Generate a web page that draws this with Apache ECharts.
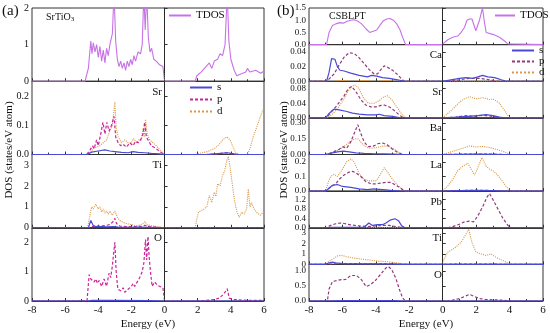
<!DOCTYPE html>
<html><head><meta charset="utf-8">
<script src="https://cdn.jsdelivr.net/npm/echarts@6/dist/echarts.min.js"></script>
<style>html,body{margin:0;padding:0;background:#fff}#c{width:550px;height:333px}</style>
</head><body><div id="c"></div>
<script>
// ---------- Panel (a) SrTiO3 ----------
const aTDOS = [[-8,0],[-4.8,0],[-4.6,0.35],[-4.45,1.1],[-4.38,0.75],[-4.3,1.05],[-4.2,0.8],[-4.1,1.0],[-4.0,0.65],[-3.9,0.95],[-3.8,0.55],[-3.7,0.85],[-3.6,0.5],[-3.5,0.9],[-3.4,0.7],[-3.3,1.0],[-3.15,1.3],[-3.05,2.4],[-2.95,1.1],[-2.85,0.6],[-2.75,0.4],[-2.65,0.55],[-2.55,0.35],[-2.45,0.5],[-2.35,0.3],[-2.25,0.55],[-2.15,0.4],[-2.05,0.6],[-1.95,0.45],[-1.85,0.7],[-1.75,0.55],[-1.6,0.8],[-1.45,0.75],[-1.35,1.0],[-1.25,2.4],[-1.17,1.4],[-1.08,2.4],[-0.98,1.2],[-0.88,0.8],[-0.78,0.9],[-0.65,0.6],[-0.5,0.55],[-0.3,0.45],[-0.1,0.4],[0,0],[1.85,0],[1.95,0.15],[2.2,0.25],[2.5,0.4],[2.7,0.5],[2.85,0.35],[3.0,0.55],[3.2,0.6],[3.35,0.75],[3.5,0.7],[3.65,1.0],[3.78,2.4],[3.88,1.1],[4.0,0.6],[4.2,0.3],[4.35,0.15],[4.6,0.2],[4.9,0.25],[5.0,0.35],[5.15,0.25],[5.5,0.3],[5.8,0.22],[6,0.28]];
const aSr_s = [[-8,0],[-4.7,0],[-4.4,0.008],[-4.0,0.012],[-3.6,0.016],[-3.3,0.012],[-3.0,0.01],[-2.6,0.007],[-2.2,0.006],[-1.9,0.01],[-1.6,0.007],[-1.2,0.006],[-0.8,0.004],[-0.3,0.002],[0,0],[2.5,0],[3.2,0.003],[3.8,0.006],[4.2,0.002],[4.5,0],[6,0]];
const aSr_p = [[-8,0],[-4.7,0],[-4.5,0.015],[-4.35,0.03],[-4.25,0.02],[-4.1,0.05],[-4.0,0.03],[-3.85,0.07],[-3.72,0.11],[-3.6,0.07],[-3.48,0.11],[-3.35,0.08],[-3.2,0.1],[-3.05,0.13],[-2.95,0.06],[-2.8,0.04],[-2.65,0.03],[-2.5,0.035],[-2.3,0.025],[-2.1,0.04],[-1.9,0.03],[-1.75,0.045],[-1.6,0.04],[-1.45,0.05],[-1.3,0.07],[-1.2,0.11],[-1.1,0.06],[-1.0,0.05],[-0.8,0.03],[-0.5,0.02],[-0.3,0.01],[0,0],[2.5,0],[3.2,0.002],[3.7,0.006],[4.0,0.003],[4.3,0],[6,0]];
const aSr_d = [[-8,0],[-4.7,0],[-4.5,0.005],[-4.3,0.02],[-4.1,0.025],[-3.9,0.03],[-3.7,0.04],[-3.5,0.05],[-3.3,0.08],[-3.15,0.1],[-3.0,0.18],[-2.92,0.09],[-2.8,0.06],[-2.6,0.04],[-2.4,0.05],[-2.2,0.04],[-2.0,0.04],[-1.87,0.055],[-1.7,0.04],[-1.55,0.05],[-1.4,0.05],[-1.3,0.09],[-1.22,0.06],[-1.15,0.12],[-1.05,0.07],[-0.9,0.05],[-0.7,0.04],[-0.5,0.03],[-0.2,0.01],[0,0],[1.8,0],[2.2,0.005],[2.6,0.01],[3.0,0.02],[3.3,0.035],[3.5,0.05],[3.75,0.06],[3.95,0.05],[4.1,0.03],[4.3,0.005],[4.5,0],[5.0,0],[5.15,0.02],[5.35,0.06],[5.6,0.1],[5.85,0.14],[6,0.16]];
const aTi_s = [[-8,0],[-4.6,0],[-4.45,0.35],[-4.3,0.1],[-4.1,0.05],[-3.8,0.06],[-3.5,0.04],[-3.1,0.06],[-2.8,0.03],[-2.3,0.02],[-1.5,0.03],[-1,0.02],[0,0],[6,0]];
const aTi_p = [[-8,0],[-4.6,0],[-4.4,0.05],[-4.0,0.08],[-3.6,0.1],[-3.3,0.15],[-3.1,0.3],[-3.0,0.45],[-2.9,0.2],[-2.7,0.08],[-2.3,0.05],[-1.8,0.05],[-1.4,0.07],[-1.2,0.12],[-1.0,0.06],[-0.5,0.03],[0,0],[6,0]];
const aTi_d = [[-8,0],[-4.65,0],[-4.5,0.6],[-4.4,1.0],[-4.3,0.9],[-4.15,1.12],[-4.0,0.9],[-3.9,1.0],[-3.8,0.75],[-3.7,0.9],[-3.6,0.7],[-3.5,0.8],[-3.4,0.65],[-3.3,0.8],[-3.15,0.6],[-3.0,0.8],[-2.85,0.5],[-2.7,0.35],[-2.5,0.25],[-2.3,0.2],[-2.0,0.15],[-1.8,0.1],[-1.5,0.12],[-1.3,0.2],[-1.2,0.3],[-1.05,0.15],[-0.8,0.1],[-0.4,0.05],[0,0],[1.85,0],[1.95,0.45],[2.05,0.75],[2.3,0.85],[2.55,1.0],[2.7,1.55],[2.85,1.2],[3.0,1.7],[3.1,1.5],[3.2,2.1],[3.35,2.0],[3.5,2.5],[3.62,2.7],[3.75,3.2],[3.85,3.4],[3.95,2.9],[4.05,2.3],[4.2,1.4],[4.35,0.8],[4.5,0.5],[4.65,0.75],[4.8,0.65],[4.95,0.9],[5.05,1.85],[5.15,1.0],[5.25,1.2],[5.4,0.9],[5.6,0.7],[5.8,0.6],[6,0.8]];
const aO_s = [[-8,0],[-4.6,0],[-4.4,0.02],[-3,0.02],[-1,0.01],[0,0],[6,0]];
const aO_p = [[-8,0],[-4.68,0],[-4.55,0.9],[-4.45,0.75],[-4.35,0.8],[-4.25,0.65],[-4.15,0.75],[-4.05,0.6],[-3.95,0.7],[-3.8,0.5],[-3.65,0.75],[-3.5,0.5],[-3.35,0.95],[-3.25,0.8],[-3.15,1.2],[-3.08,1.6],[-3.0,2.0],[-2.92,1.0],[-2.82,0.4],[-2.65,0.35],[-2.5,0.45],[-2.4,0.3],[-2.2,0.4],[-2.0,0.5],[-1.9,0.6],[-1.8,0.5],[-1.7,0.6],[-1.5,0.8],[-1.35,1.0],[-1.25,1.3],[-1.15,2.1],[-1.08,1.4],[-1.0,2.2],[-0.93,1.5],[-0.85,1.0],[-0.75,0.5],[-0.6,0.65],[-0.45,0.55],[-0.3,0.5],[-0.1,0.45],[0,0],[2.0,0],[2.5,0.02],[3.0,0.05],[3.3,0.1],[3.5,0.2],[3.65,0.3],[3.78,0.42],[3.9,0.1],[4.2,0.05],[5,0.02],[6,0.02]];

// ---------- Panel (b) CSBLPT ----------
const bTDOS = [[-8,0],[-6.95,0],[-6.8,0.5],[-6.6,0.78],[-6.4,0.85],[-6.15,0.9],[-5.95,0.88],[-5.75,0.95],[-5.5,1.0],[-5.3,1.02],[-5.1,0.97],[-4.85,0.85],[-4.6,0.65],[-4.37,0.5],[-4.15,0.55],[-3.95,0.6],[-3.75,0.8],[-3.55,0.98],[-3.35,1.05],[-3.15,1.07],[-2.95,1.0],[-2.75,0.85],[-2.55,0.6],[-2.4,0.3],[-2.22,0],[-0.05,0],[0,0.08],[0.3,0.2],[0.6,0.3],[0.9,0.35],[1.1,0.5],[1.3,0.7],[1.45,1.0],[1.6,1.05],[1.75,1.05],[1.98,0.57],[2.2,1.0],[2.38,1.5],[2.5,0.9],[2.6,0.5],[3.0,0.42],[3.4,0.3],[3.7,0.15],[3.9,0.03],[4.0,0],[6,0]];
const bCa_s = [[-8,0],[-6.95,0],[-6.8,0.012],[-6.65,0.031],[-6.45,0.03],[-6.3,0.02],[-6.15,0.015],[-5.9,0.014],[-5.5,0.011],[-5.0,0.008],[-4.5,0.006],[-4.25,0.008],[-4.15,0.01],[-3.95,0.007],[-3.6,0.005],[-3.2,0.004],[-2.7,0.002],[-2.3,0],[0,0],[0.5,0.002],[1.0,0.004],[1.4,0.005],[1.8,0.004],[2.1,0.006],[2.38,0.008],[2.7,0.006],[3.1,0.005],[3.5,0.002],[3.8,0],[6,0]];
const bCa_p = [[-8,0],[-7.0,0],[-6.8,0.003],[-6.5,0.01],[-6.2,0.022],[-5.9,0.033],[-5.6,0.039],[-5.3,0.038],[-5.0,0.032],[-4.7,0.024],[-4.4,0.016],[-4.1,0.01],[-3.9,0.01],[-3.7,0.016],[-3.5,0.021],[-3.3,0.019],[-3.0,0.015],[-2.7,0.009],[-2.45,0.003],[-2.3,0],[0.5,0],[1.0,0.002],[1.6,0.004],[2.2,0.004],[2.8,0.002],[3.3,0],[6,0]];
const bCa_d = [[-8,0],[-6,0.001],[-3,0.001],[-2.3,0],[6,0]];
const bSr_s = [[-8,0],[-7.0,0],[-6.8,0.012],[-6.5,0.024],[-6.2,0.022],[-5.8,0.018],[-5.4,0.013],[-5.0,0.01],[-4.5,0.008],[-4.0,0.008],[-3.8,0.01],[-3.5,0.006],[-3.0,0.004],[-2.6,0.001],[-2.3,0],[0,0],[0.8,0.002],[1.5,0.004],[2.1,0.006],[2.6,0.009],[3.0,0.006],[3.4,0.002],[3.7,0],[6,0]];
const bSr_p = [[-8,0],[-6.95,0],[-6.7,0.015],[-6.4,0.03],[-6.15,0.045],[-5.9,0.06],[-5.65,0.08],[-5.45,0.086],[-5.2,0.072],[-4.9,0.05],[-4.6,0.035],[-4.3,0.03],[-4.0,0.03],[-3.7,0.034],[-3.5,0.035],[-3.2,0.03],[-2.9,0.02],[-2.6,0.008],[-2.35,0],[0,0],[0.8,0.002],[1.4,0.006],[1.9,0.004],[2.4,0.007],[3.0,0.004],[3.5,0],[6,0]];
const bSr_d = [[-8,0],[-6.95,0],[-6.6,0.01],[-6.3,0.025],[-6.0,0.045],[-5.7,0.07],[-5.45,0.085],[-5.25,0.09],[-5.0,0.08],[-4.75,0.055],[-4.45,0.04],[-4.1,0.04],[-3.8,0.047],[-3.5,0.058],[-3.3,0.06],[-3.05,0.05],[-2.75,0.03],[-2.45,0.01],[-2.2,0],[0,0],[0.1,0.005],[0.5,0.02],[0.9,0.038],[1.2,0.05],[1.6,0.058],[2.0,0.052],[2.4,0.055],[2.8,0.05],[3.0,0.052],[3.4,0.04],[3.7,0.02],[4.0,0],[6,0]];
const bBa_s = [[-8,0],[-7.0,0],[-6.6,0.015],[-6.2,0.028],[-5.95,0.032],[-5.6,0.025],[-5.2,0.016],[-4.7,0.01],[-4.2,0.008],[-3.5,0.006],[-2.9,0.003],[-2.4,0],[0,0],[1,0.002],[2,0.004],[3,0.002],[3.6,0],[6,0]];
const bBa_p = [[-8,0],[-7.0,0],[-6.6,0.02],[-6.2,0.05],[-5.95,0.073],[-5.75,0.06],[-5.5,0.12],[-5.3,0.2],[-5.08,0.285],[-4.9,0.2],[-4.7,0.12],[-4.45,0.075],[-4.15,0.08],[-3.85,0.105],[-3.55,0.108],[-3.3,0.09],[-3.0,0.05],[-2.7,0.02],[-2.4,0],[0,0],[1,0.003],[2,0.005],[3,0.003],[3.6,0],[6,0]];
const bBa_d = [[-8,0],[-7.0,0],[-6.7,0.01],[-6.2,0.045],[-5.8,0.09],[-5.5,0.13],[-5.25,0.15],[-5.05,0.148],[-4.8,0.1],[-4.5,0.065],[-4.2,0.06],[-3.9,0.068],[-3.6,0.08],[-3.3,0.08],[-3.0,0.06],[-2.7,0.03],[-2.4,0],[0,0],[0.2,0.01],[0.8,0.04],[1.2,0.06],[1.6,0.082],[2.0,0.072],[2.4,0.077],[2.8,0.067],[3.2,0.05],[3.6,0.03],[3.9,0.01],[4.1,0],[6,0]];
const bLa_s = [[-8,0],[-7.0,0],[-6.8,0.02],[-6.6,0.04],[-6.3,0.045],[-6.0,0.032],[-5.5,0.025],[-5.0,0.015],[-4.5,0.01],[-4.1,0.015],[-3.8,0.012],[-3.4,0.008],[-3.0,0.004],[-2.5,0],[0,0],[1,0.003],[2,0.005],[3,0.003],[3.6,0],[6,0]];
const bLa_p = [[-8,0],[-7.0,0],[-6.7,0.03],[-6.4,0.05],[-6.2,0.08],[-5.9,0.11],[-5.6,0.13],[-5.4,0.135],[-5.2,0.125],[-4.9,0.1],[-4.6,0.065],[-4.3,0.05],[-4.0,0.05],[-3.7,0.055],[-3.4,0.06],[-3.1,0.06],[-2.8,0.04],[-2.5,0.02],[-2.3,0],[0,0],[1,0.004],[2,0.006],[3,0.004],[3.6,0],[6,0]];
const bLa_d = [[-8,0],[-7.0,0],[-6.85,0.06],[-6.7,0.1],[-6.5,0.115],[-6.3,0.1],[-6.0,0.15],[-5.75,0.2],[-5.5,0.22],[-5.3,0.2],[-5.0,0.12],[-4.7,0.08],[-4.4,0.07],[-4.0,0.07],[-3.8,0.1],[-3.5,0.16],[-3.3,0.13],[-3.0,0.08],[-2.7,0.04],[-2.4,0.01],[-2.2,0],[0,0],[0.05,0.01],[0.3,0.035],[0.6,0.08],[0.9,0.14],[1.2,0.17],[1.5,0.19],[1.7,0.15],[1.9,0.11],[2.1,0.16],[2.35,0.23],[2.6,0.17],[2.8,0.15],[3.0,0.14],[3.2,0.12],[3.5,0.08],[3.8,0.03],[4.1,0],[6,0]];
const bPb_s = [[-8,0],[-7.0,0],[-6.7,0.015],[-5.5,0.015],[-4.7,0.02],[-4.42,0.2],[-4.2,0.1],[-3.9,0.13],[-3.6,0.13],[-3.4,0.2],[-3.15,0.32],[-2.85,0.38],[-2.65,0.3],[-2.45,0.08],[-2.25,0],[0,0],[6,0]];
const bPb_p = [[-8,0],[-7.0,0],[-6.7,0.1],[-6.4,0.17],[-6.15,0.2],[-5.9,0.18],[-5.5,0.12],[-5.0,0.08],[-4.5,0.05],[-4.0,0.08],[-3.5,0.1],[-3.2,0.1],[-2.8,0.05],[-2.5,0.02],[-2.3,0],[0.3,0],[0.6,0.05],[1.0,0.15],[1.3,0.25],[1.6,0.28],[1.85,0.25],[2.1,0.5],[2.4,0.9],[2.65,1.3],[2.8,1.45],[3.0,1.2],[3.3,0.8],[3.6,0.4],[3.9,0.1],[4.1,0],[6,0]];
const bPb_d = [[-8,0],[-6.5,0.01],[-3,0.01],[-2.3,0],[6,0]];
const bTi_s = [[-8,0],[-7.0,0],[-6.8,0.15],[-6.6,0.22],[-6.4,0.15],[-6.0,0.08],[-5,0.05],[-4,0.04],[-3,0.03],[-2.3,0],[0,0],[6,0]];
const bTi_p = [[-8,0],[-7.0,0],[-6.5,0.05],[-6,0.08],[-5,0.06],[-4,0.05],[-3,0.04],[-2.3,0],[0,0],[1,0.03],[2,0.03],[3,0.02],[4,0],[6,0]];
const bTi_d = [[-8,0],[-7.0,0],[-6.8,0.3],[-6.5,0.6],[-6.3,0.8],[-6.05,0.88],[-5.8,0.75],[-5.3,0.6],[-4.8,0.5],[-4.3,0.4],[-3.8,0.3],[-3.3,0.25],[-2.8,0.15],[-2.4,0.05],[-2.2,0],[-0.05,0],[0,0.2],[0.15,0.7],[0.3,1.15],[0.7,1.55],[1.1,2.1],[1.4,2.9],[1.55,3.37],[1.75,2.1],[1.98,1.2],[2.2,1.05],[2.58,0.85],[2.88,1.0],[3.17,0.7],[3.57,0.38],[3.97,0.06],[4.2,0],[6,0]];
const bO_s = [[-8,0],[-7,0],[-6,0.01],[-3,0.01],[-2.3,0],[6,0]];
const bO_p = [[-8,0],[-6.9,0],[-6.8,0.4],[-6.6,0.65],[-6.35,0.68],[-6.07,0.71],[-5.8,0.72],[-5.5,0.85],[-5.15,0.85],[-4.85,0.7],[-4.58,0.48],[-4.3,0.55],[-4.0,0.7],[-3.7,0.9],[-3.4,1.1],[-3.25,1.15],[-3.05,1.05],[-2.8,0.75],[-2.6,0.4],[-2.4,0.1],[-2.22,0],[0.3,0],[0.6,0.03],[1.0,0.08],[1.3,0.15],[1.6,0.22],[1.9,0.15],[2.2,0.08],[2.6,0.05],[3.0,0.04],[3.5,0.03],[4.0,0],[6,0]];

// element labels and axis settings
const elementsA = ['', 'Sr', 'Ti', 'O'];
const elementsB = ['', 'Ca', 'Sr', 'Ba', 'La', 'Pb', 'Ti', 'O'];
const yMaxA = [2, 0.25, 3.5, 2.5];
const yStepA = [1, 0.1, 1, 1];
const yDecA = [0, 1, 0, 0];
const yMaxB = [1.5, 0.05, 0.1, 0.35, 0.25, 1.55, 3.5, 1.22];
const yStepB = [0.5, 0.02, 0.04, 0.15, 0.1, 0.4, 1, 0.5];
const yDecB = [1, 2, 2, 2, 1, 1, 0, 1];

const seriesA = [
  {tdos: aTDOS},
  {s: aSr_s, p: aSr_p, d: aSr_d},
  {s: aTi_s, p: aTi_p, d: aTi_d},
  {s: aO_s, p: aO_p}
];
const seriesB = [
  {tdos: bTDOS},
  {s: bCa_s, p: bCa_p, d: bCa_d},
  {s: bSr_s, p: bSr_p, d: bSr_d},
  {s: bBa_s, p: bBa_p, d: bBa_d},
  {s: bLa_s, p: bLa_p, d: bLa_d},
  {s: bPb_s, p: bPb_p, d: bPb_d},
  {s: bTi_s, p: bTi_p, d: bTi_d},
  {s: bO_s, p: bO_p}
];

const FONT = 'Liberation Serif';
const C_TDOS = '#c872e8', C_S = '#4a4ad6', C_D = '#d99a48';
const C_PA = '#cc2299', C_PB = '#943a7c';

const grids = [], xAxes = [], yAxes = [], series = [], graphics = [];

function addPanel(sets, maxs, steps, decs, elems, left, right, top0, totalH, yFont, pColor, suffix, labelRight) {
  const n = sets.length, h = totalH / n;
  sets.forEach((set, i) => {
    const gi = grids.length;
    const top = top0 + i * h;
    grids.push({left: left, width: right - left, top: top, height: h, show: true, borderColor: '#333', borderWidth: 1, backgroundColor: 'transparent', containLabel: false});
    const last = i === n - 1;
    xAxes.push({type: 'value', gridIndex: gi, min: -8, max: 6, interval: 2,
      axisLine: {show: true, lineStyle: {color: '#333'}},
      axisTick: {show: true, inside: true, length: 3, lineStyle: {color: '#333'}},
      minorTick: {show: true, splitNumber: 2, length: 2, lineStyle: {color: '#333'}},
      splitLine: {show: false}, minorSplitLine: {show: false},
      axisLabel: {show: last, fontFamily: FONT, fontSize: 11, color: '#111', margin: 4},
      name: last ? 'Energy (eV)' : '', nameLocation: 'middle', nameGap: 18,
      nameTextStyle: {fontFamily: FONT, fontSize: 11, color: '#111'}});
    const st = steps[i], dec = decs[i];
    yAxes.push({type: 'value', gridIndex: gi, min: 0, max: maxs[i], interval: st,
      axisLine: {show: true, lineStyle: {color: '#333'}},
      axisTick: {show: true, inside: true, length: 3, lineStyle: {color: '#333'}},
      splitLine: {show: false},
      axisLabel: {fontFamily: FONT, fontSize: yFont, color: '#111', margin: 3,
        formatter: v => {const r = v / st; return Math.abs(r - Math.round(r)) < 1e-6 ? v.toFixed(dec) : '';}}});
    const mk = {silent: true, symbol: ['none', 'none'], label: {show: false},
      lineStyle: {type: 'dotted', color: '#222', width: 1}, data: [{xAxis: 0}], animation: false};
    const base = {type: 'line', xAxisIndex: gi, yAxisIndex: gi, symbol: 'none', animation: false, clip: true};
    let first = true;
    const push = (o) => { if (first) { o.markLine = mk; first = false; } series.push(Object.assign({}, base, o)); };
    if (set.tdos) push({name: 'TDOS' + suffix, data: set.tdos, lineStyle: {color: C_TDOS, width: 1.1}, itemStyle: {color: C_TDOS}});
    if (set.d) push({name: 'd' + suffix, data: set.d, lineStyle: {color: C_D, width: 1.1, type: 'dotted'}, itemStyle: {color: C_D}});
    if (set.p) push({name: 'p' + suffix, data: set.p, lineStyle: {color: pColor, width: 1.2, type: [3, 2]}, itemStyle: {color: pColor}});
    if (set.s) push({name: 's' + suffix, data: set.s, lineStyle: {color: C_S, width: 1.2}, itemStyle: {color: C_S}});
    if (elems[i]) graphics.push({type: 'text', right: 550 - labelRight, top: top + 5,
      style: {text: elems[i], font: '11px "' + FONT + '"', fill: '#111', textAlign: 'right'}});
  });
}

addPanel(seriesA, yMaxA, yStepA, yDecA, elementsA, 32, 264, 8, 293, 10, C_PA, '', 162);
addPanel(seriesB, yMaxB, yStepB, yDecB, elementsB, 309, 543, 8, 293, 9, C_PB, ' ', 442);

graphics.push(
  {type: 'text', left: 2, top: 4, style: {text: '(a)', font: '15px "' + FONT + '"', fill: '#111'}},
  {type: 'text', left: 277, top: 4, style: {text: '(b)', font: '15px "' + FONT + '"', fill: '#111'}},
  {type: 'text', left: 46, top: 12, style: {rich: {n: {fontFamily: FONT, fontSize: 10, fill: '#111'}, sub: {fontFamily: FONT, fontSize: 7, fill: '#111', verticalAlign: 'bottom', padding: [5, 0, 0, 0]}}, text: '{n|SrTiO}{sub|3}'}},
  {type: 'text', left: 329, top: 11, style: {text: 'CSBLPT', font: '10px "' + FONT + '"', fill: '#111'}},
  {type: 'text', rotation: Math.PI / 2, x: 4, y: 150,
    style: {text: 'DOS (states/eV atom)', font: '11px "' + FONT + '"', fill: '#111', textAlign: 'center', textVerticalAlign: 'top'}},
  {type: 'text', rotation: Math.PI / 2, x: 279, y: 150,
    style: {text: 'DOS (states/eV atom)', font: '11px "' + FONT + '"', fill: '#111', textAlign: 'center', textVerticalAlign: 'top'}}
);

const legendBase = {selectedMode: false, itemGap: 2, itemWidth: 22, itemHeight: 10,
  itemStyle: {opacity: 0},
  textStyle: {fontFamily: FONT, fontSize: 11, color: '#111'}, formatter: n => n.trim(), padding: 0};

const option = {
  animation: false,
  textStyle: {fontFamily: FONT},
  grid: grids, xAxis: xAxes, yAxis: yAxes, series: series,
  legend: [
    Object.assign({}, legendBase, {data: ['TDOS'], left: 168, top: 10}),
    Object.assign({}, legendBase, {data: ['s', 'p', 'd'], left: 189, top: 82, orient: 'vertical', itemGap: 1}),
    Object.assign({}, legendBase, {data: ['TDOS '], left: 494, top: 10, itemWidth: 20}),
    Object.assign({}, legendBase, {data: ['s ', 'p ', 'd '], left: 511, top: 45, orient: 'vertical', itemGap: 0, itemWidth: 22, itemHeight: 9})
  ],
  graphic: graphics
};
const chart = echarts.init(document.getElementById('c'), null, {renderer: 'canvas'});
chart.setOption(option);
</script></body></html>
